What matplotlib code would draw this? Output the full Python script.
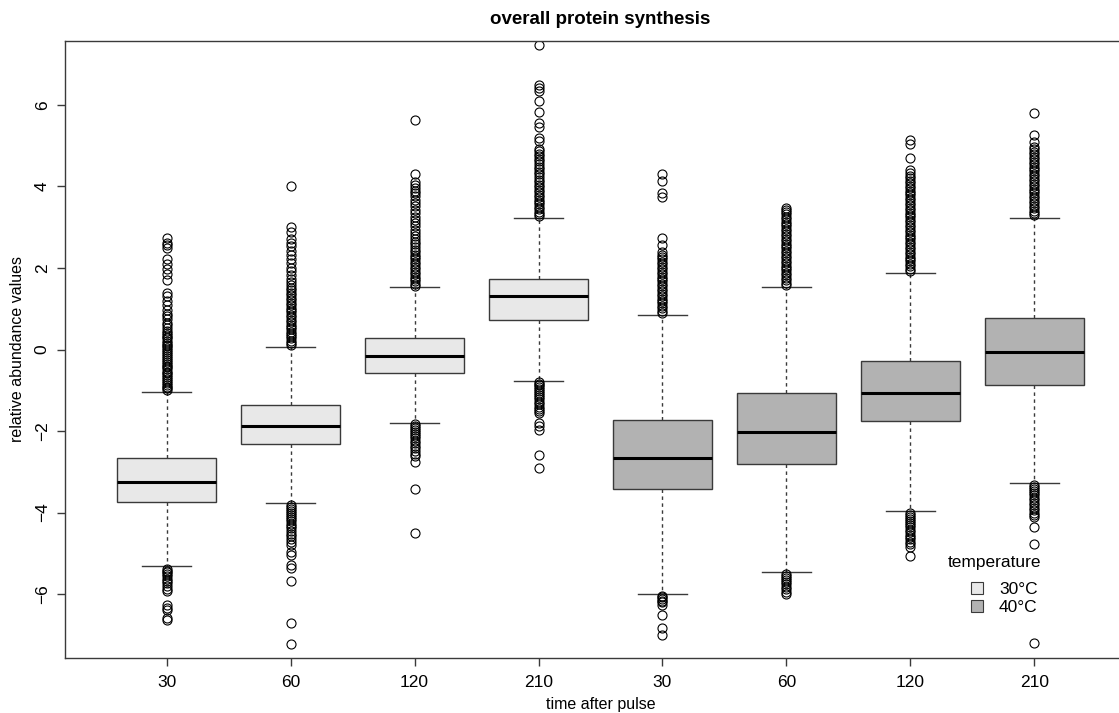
import numpy as np
import matplotlib.pyplot as plt
from matplotlib.patches import Patch

plt.rcParams['font.family'] = ['Liberation Sans', 'DejaVu Sans']

# time points (two temperature blocks of four)
time_labels = ['30', '60', '120', '210', '30', '60', '120', '210']
temperature = ['30°C'] * 4 + ['40°C'] * 4

# box statistics
medians = [-3.25, -1.88, -0.17, 1.31, -2.66, -2.02, -1.07, -0.06]
q1 = [-3.74, -2.32, -0.57, 0.72, -3.42, -2.82, -1.76, -0.86]
q3 = [-2.66, -1.36, 0.27, 1.72, -1.73, -1.07, -0.28, 0.77]
whislo = [-5.32, -3.77, -1.80, -0.77, -6.00, -5.46, -3.96, -3.28]
whishi = [-1.04, 0.07, 1.53, 3.23, 0.85, 1.53, 1.88, 3.23]

# outliers per box
out_30_30 = [2.73, 2.62, 2.56, 2.50, 2.22, 2.10, 1.98, 1.86, 1.70, 1.38, 1.31, 1.19,
             1.08, 0.98, 0.88, 0.82, 0.74, 0.66, 0.60, 0.52, 0.46, 0.41, 0.36, 0.31,
             0.27, 0.22, 0.17, 0.12, 0.08, 0.03, -0.02, -0.07, -0.11, -0.16, -0.21,
             -0.26, -0.30, -0.35, -0.40, -0.44, -0.49, -0.54, -0.58, -0.63, -0.68,
             -0.72, -0.77, -0.82, -0.86, -0.91, -0.95, -1.00,
             -5.38, -5.43, -5.47, -5.52, -5.57, -5.62, -5.67, -5.73, -5.80, -5.88,
             -5.92, -6.28, -6.34, -6.40, -6.58, -6.63]
out_30_60 = [4.02, 3.00, 2.88, 2.72, 2.62, 2.55, 2.42, 2.31, 2.22, 2.12, 2.01, 1.92,
             1.84, 1.73, 1.65, 1.58, 1.52, 1.45, 1.39, 1.33, 1.27, 1.21, 1.15, 1.09,
             1.03, 0.97, 0.91, 0.85, 0.79, 0.73, 0.67, 0.61, 0.55, 0.50, 0.44, 0.38,
             0.33, 0.27, 0.21, 0.16, 0.11,
             -3.81, -3.86, -3.91, -3.96, -4.01, -4.06, -4.11, -4.16, -4.21, -4.27,
             -4.33, -4.39, -4.45, -4.52, -4.58, -4.65, -4.72, -4.80, -4.98, -5.05,
             -5.30, -5.36, -5.68, -6.71, -7.23]
out_30_120 = [5.62, 4.31, 4.12, 4.03, 3.96, 3.90, 3.84, 3.76, 3.68, 3.60, 3.52, 3.43,
              3.35, 3.26, 3.18, 3.10, 3.02, 2.94, 2.86, 2.79, 2.72, 2.65, 2.58, 2.51,
              2.45, 2.39, 2.33, 2.27, 2.21, 2.15, 2.09, 2.03, 1.97, 1.91, 1.85, 1.79,
              1.73, 1.67, 1.61, 1.56,
              -1.84, -1.88, -1.93, -1.98, -2.03, -2.08, -2.13, -2.18, -2.24, -2.30,
              -2.36, -2.42, -2.48, -2.56, -2.62, -2.76, -3.42, -4.51]
out_30_210 = [7.47, 6.49, 6.42, 6.34, 6.10, 5.83, 5.56, 5.46, 5.19, 5.12, 4.92, 4.86,
              4.80, 4.74, 4.68, 4.62, 4.56, 4.49, 4.42, 4.36, 4.30, 4.24, 4.17, 4.10,
              4.04, 3.98, 3.92, 3.86, 3.80, 3.74, 3.68, 3.62, 3.56, 3.50, 3.44, 3.38,
              3.32, 3.27,
              -0.80, -0.84, -0.88, -0.92, -0.97, -1.02, -1.07, -1.12, -1.17, -1.22,
              -1.28, -1.34, -1.40, -1.46, -1.52, -1.57, -1.80, -1.87, -1.97, -2.59, -2.91]
out_40_30 = [4.31, 4.13, 3.84, 3.74, 2.74, 2.56, 2.39, 2.33, 2.27, 2.21, 2.15, 2.09,
             2.03, 1.97, 1.91, 1.85, 1.79, 1.73, 1.67, 1.61, 1.55, 1.49, 1.43, 1.37,
             1.31, 1.25, 1.19, 1.13, 1.07, 1.01, 0.95, 0.89,
             -6.04, -6.08, -6.12, -6.16, -6.20, -6.27, -6.52, -6.83, -7.00]
out_40_60 = [3.48, 3.43, 3.38, 3.32, 3.26, 3.20, 3.14, 3.08, 3.02, 2.96, 2.90, 2.84,
             2.78, 2.72, 2.66, 2.60, 2.54, 2.48, 2.42, 2.36, 2.30, 2.24, 2.18, 2.12,
             2.06, 2.00, 1.94, 1.88, 1.82, 1.76, 1.70, 1.64, 1.58,
             -5.50, -5.55, -5.60, -5.65, -5.70, -5.76, -5.82, -5.88, -5.94, -6.00]
out_40_120 = [5.15, 5.05, 4.70, 4.40, 4.32, 4.26, 4.20, 4.14, 4.08, 4.02, 3.96, 3.90,
              3.84, 3.78, 3.72, 3.66, 3.60, 3.54, 3.48, 3.42, 3.36, 3.30, 3.24, 3.18,
              3.12, 3.06, 3.00, 2.94, 2.88, 2.82, 2.76, 2.70, 2.64, 2.58, 2.52, 2.46,
              2.40, 2.34, 2.28, 2.22, 2.16, 2.10, 2.04, 1.98, 1.92,
              -4.00, -4.05, -4.10, -4.15, -4.20, -4.25, -4.30, -4.36, -4.42, -4.48,
              -4.54, -4.60, -4.66, -4.72, -4.78, -4.84, -5.07]
out_40_210 = [5.80, 5.26, 5.09, 4.97, 4.91, 4.85, 4.79, 4.73, 4.67, 4.61, 4.55, 4.49,
              4.43, 4.37, 4.31, 4.25, 4.19, 4.13, 4.07, 4.01, 3.95, 3.89, 3.83, 3.77,
              3.71, 3.65, 3.59, 3.53, 3.47, 3.41, 3.35, 3.29,
              -3.32, -3.37, -3.42, -3.47, -3.52, -3.58, -3.64, -3.70, -3.76, -3.82,
              -3.88, -3.94, -4.00, -4.06, -4.11, -4.35, -4.77, -7.20]
outliers = [out_30_30, out_30_60, out_30_120, out_30_210,
            out_40_30, out_40_60, out_40_120, out_40_210]

fill = {'30°C': '#e8e8e8', '40°C': '#b2b2b2'}
edge = '#3a3a3a'

stats = []
for i in range(8):
    stats.append(dict(med=medians[i], q1=q1[i], q3=q3[i], whislo=whislo[i],
                      whishi=whishi[i], fliers=outliers[i]))

fig = plt.figure(figsize=(11.19, 7.13), dpi=100)
# plot region runs past the right edge, as in the cropped original
ax = fig.add_axes([65 / 1119, 55 / 713, 1071 / 1119, 617 / 713])

pos = np.arange(1, 9)
bp = ax.bxp(stats, positions=pos, widths=0.8, capwidths=0.4, patch_artist=True,
            boxprops=dict(edgecolor=edge, linewidth=1.0),
            medianprops=dict(color='black', linewidth=2.2, solid_capstyle='butt'),
            whiskerprops=dict(color=edge, linewidth=1.0, linestyle=(0, (2.5, 2.5))),
            capprops=dict(color=edge, linewidth=1.0),
            flierprops=dict(marker='o', markerfacecolor='none', markeredgecolor='black',
                            markersize=6.5, markeredgewidth=0.8, linestyle='none'))
for patch, t in zip(bp['boxes'], temperature):
    patch.set_facecolor(fill[t])

ax.set_xlim(0.18, 8.82)
ax.set_ylim(-7.57, 7.57)
ax.set_xticks(pos)
ax.set_xticklabels(time_labels)
ax.set_yticks([-6, -4, -2, 0, 2, 4, 6])
ax.set_yticklabels(['−6', '−4', '−2', '0', '2', '4', '6'], rotation=90, va='center')
ax.tick_params(length=6, width=1, color=edge, labelsize=12.5, pad=6)
ax.tick_params(axis='y', pad=5)
for s in ax.spines.values():
    s.set_color(edge)
    s.set_linewidth(1)

ax.set_title('overall protein synthesis', fontsize=13.5, fontweight='bold', pad=12)
ax.set_xlabel('time after pulse', fontsize=11.5, labelpad=5)
ax.set_ylabel('relative abundance values', fontsize=11.5, labelpad=7)

# legend (title drawn separately to get R's spacing)
fig.text(995 / 1119, 1 - 563 / 713, 'temperature', fontsize=12.5,
         ha='center', va='center')
handles = [Patch(facecolor=fill['30°C'], edgecolor=edge, linewidth=0.8),
           Patch(facecolor=fill['40°C'], edgecolor=edge, linewidth=0.8)]
leg = fig.legend(handles, ['30°C', '40°C'], frameon=False,
                 loc='upper left', bbox_to_anchor=(959 / 1119, 1 - 570 / 713),
                 fontsize=12.5, handlelength=0.7, handleheight=0.7,
                 handletextpad=0.9, labelspacing=0.15, borderpad=0.2)

fig.savefig('out.png', dpi=100)
